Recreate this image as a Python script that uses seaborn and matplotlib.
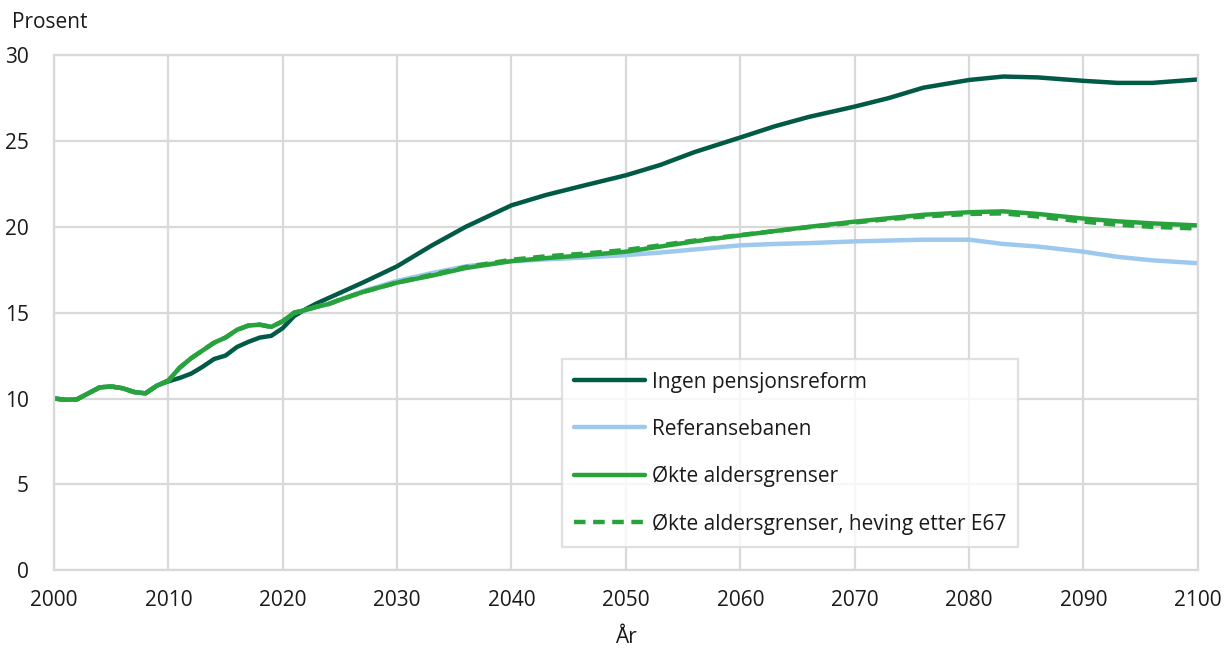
import pandas as pd
import matplotlib
matplotlib.use("Agg")
import matplotlib.pyplot as plt
import seaborn as sns

years = list(range(2000, 2026)) + [2027, 2030, 2033, 2036, 2040, 2043, 2046, 2050, 2053,
                                   2056, 2060, 2063, 2066, 2070, 2073, 2076, 2080, 2083,
                                   2086, 2090, 2093, 2096, 2100]

ingen = [10.0, 9.93, 9.95, 10.3, 10.65, 10.7, 10.6, 10.38, 10.3, 10.75,
         11.0, 11.2, 11.45, 11.85, 12.3, 12.5, 13.0, 13.3, 13.55, 13.65,
         14.1, 14.8, 15.2, 15.55, 15.85, 16.15,
         16.75, 17.7, 18.9, 20.0, 21.25, 21.85, 22.35, 23.0, 23.6,
         24.35, 25.2, 25.85, 26.4, 27.0, 27.5, 28.1, 28.55, 28.75,
         28.7, 28.5, 28.38, 28.38, 28.58]

okte = [10.0, 9.93, 9.95, 10.3, 10.65, 10.7, 10.6, 10.38, 10.3, 10.75,
        11.05, 11.8, 12.35, 12.8, 13.25, 13.55, 14.0, 14.25, 14.3, 14.17,
        14.5, 15.0, 15.15, 15.35, 15.5, 15.75,
        16.2, 16.75, 17.15, 17.6, 18.0, 18.18, 18.32, 18.55, 18.85,
        19.15, 19.5, 19.75, 20.0, 20.3, 20.5, 20.7, 20.85, 20.9,
        20.75, 20.48, 20.32, 20.2, 20.08]

# heving etter E67: lik okte til 2030
okte_e67 = okte[:28] + [17.2, 17.65, 18.08, 18.28, 18.42, 18.65, 18.92,
                        19.2, 19.52, 19.75, 19.98, 20.25, 20.45, 20.6, 20.75, 20.78,
                        20.6, 20.3, 20.12, 20.0, 19.9]

referanse = okte[:26] + [16.25, 16.85, 17.3, 17.7, 18.0, 18.1, 18.2, 18.35, 18.5,
                         18.68, 18.92, 19.0, 19.05, 19.15, 19.2, 19.25, 19.25, 19.0,
                         18.85, 18.55, 18.25, 18.05, 17.88]

labels = ["Ingen pensjonsreform", "Referansebanen", "Økte aldersgrenser",
          "Økte aldersgrenser, heving etter E67"]
series = [ingen, referanse, okte, okte_e67]
colors = ["#005a46", "#9dc9ee", "#28a33c", "#28a33c"]
styles = ["-", "-", "-", (0, (2.6, 1.7))]

sns.set_style("white")
plt.rcParams["font.family"] = ["Open Sans", "DejaVu Sans"]
fs = 15

fig = plt.figure(figsize=(12.26, 6.48), dpi=100)
ax = fig.add_axes([0.044, 0.12, 0.933, 0.795])

for lab, vals, col, ls in zip(labels, series, colors, styles):
    df = pd.DataFrame({"År": years, "Prosent": vals})
    sns.lineplot(data=df, x="År", y="Prosent", ax=ax, color=col, linewidth=3.2,
                 linestyle=ls, label=lab)

ax.set_xlim(2000, 2100)
ax.set_ylim(0, 30)
ax.set_xticks(range(2000, 2101, 10))
ax.set_yticks(range(0, 31, 5))
ax.grid(True, color="#d9d9d9", linewidth=1.6)
ax.set_axisbelow(True)
for s in ax.spines.values():
    s.set_color("#d9d9d9")
    s.set_linewidth(1.6)
ax.tick_params(axis="both", length=0, labelsize=fs, colors="#1a1a1a")
ax.tick_params(axis="x", pad=14)
ax.tick_params(axis="y", pad=18)

ax.set_ylabel("")
ax.set_xlabel("År", fontsize=fs, color="#1a1a1a", labelpad=12)
fig.text(12 / 1226, 1 - 22 / 648, "Prosent", fontsize=fs, color="#1a1a1a",
         va="center", ha="left")

leg = ax.legend(loc="upper left", bbox_to_anchor=(0.435, 0.43), fontsize=fs,
                frameon=True, fancybox=False, edgecolor="#d9d9d9", handlelength=3.4,
                labelspacing=1.25, borderpad=0.6, handletextpad=0.3)
leg.get_frame().set_linewidth(1.6)
for t in leg.get_texts():
    t.set_color("#1a1a1a")

fig.savefig("out.png", dpi=100)
